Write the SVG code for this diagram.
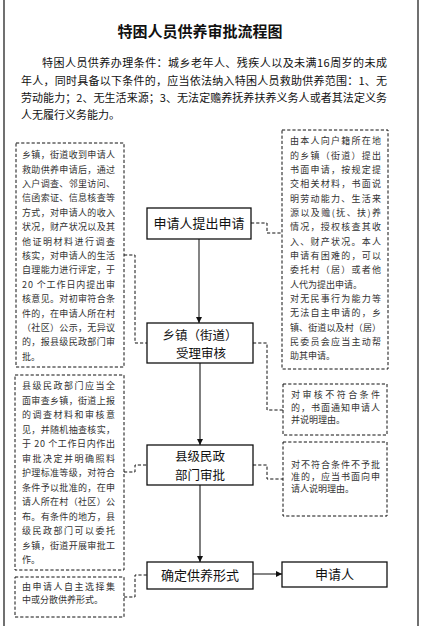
<svg xmlns="http://www.w3.org/2000/svg" width="424" height="626" viewBox="0 0 424 626">
<style>
text{font-family:"Noto Sans CJK SC","Noto Sans",sans-serif;fill:#111}
.title{font-size:15px;font-weight:bold;text-anchor:middle}
.intro{font-size:11px}
.small{font-size:9px;fill:#333}
.lbl{font-size:13px;text-anchor:middle}
.lbl2{font-size:12.5px;text-anchor:middle}
.node{fill:#fff;stroke:#111;stroke-width:1.3}
.note{fill:none;stroke:#111;stroke-width:1;stroke-dasharray:3.2,2}
.dash{fill:none;stroke:#111;stroke-width:1;stroke-dasharray:3.2,2}
.flow{fill:none;stroke:#7f7f7f;stroke-width:2}
.flow1{fill:none;stroke:#333;stroke-width:1.2}
.page{stroke:#111;stroke-width:1.2}
</style>
<defs>
<marker id="ah" markerWidth="6" markerHeight="6" refX="6" refY="3" orient="auto" markerUnits="userSpaceOnUse"><path d="M0,0 L6,3 L0,6 z" fill="#111"/></marker>
</defs>
<rect width="424" height="626" fill="#fff"/>
<line class="page" x1="4" y1="0" x2="4" y2="626"/>
<line class="page" x1="418" y1="0" x2="418" y2="626"/>

<g id="header">
<text class="title" x="200" y="37">特困人员供养审批流程图</text>
<text class="intro" x="42" y="67" textLength="345" lengthAdjust="spacing">特困人员供养办理条件：城乡老年人、残疾人以及未满16周岁的未成</text>
<text class="intro" x="21" y="85" textLength="366" lengthAdjust="spacing">年人，同时具备以下条件的，应当依法纳入特困人员救助供养范围：1、无</text>
<text class="intro" x="21" y="102" textLength="366" lengthAdjust="spacing">劳动能力；2、无生活来源；3、无法定赡养抚养扶养义务人或者其法定义务</text>
<text class="intro" x="21" y="119">人无履行义务能力。</text>
</g>

<g id="connectors">
<line class="flow1" x1="199" y1="239" x2="199" y2="323" marker-end="url(#ah)"/>
<line class="flow" x1="200" y1="363" x2="200" y2="445" marker-end="url(#ah)"/>
<line class="flow" x1="200" y1="485" x2="200" y2="562" marker-end="url(#ah)"/>
<line class="flow1" x1="253" y1="574" x2="282" y2="574" marker-end="url(#ah)"/>
<path class="dash" d="M124,255 H135 V343 H147"/>
<path class="dash" d="M251,223 H267 V233 H282"/>
<path class="dash" d="M253,343 H267 V410 H283"/>
<path class="dash" d="M253,465 H267 V479 H283"/>
<path class="dash" d="M124,472 H135 V465 H147"/>
<path class="dash" d="M124,597 H135 V575 H147"/>
</g>

<g id="node-apply">
<rect class="node" x="147" y="208" width="104" height="31"/>
<text class="lbl" x="199" y="228">申请人提出申请</text>
</g>

<g id="node-town">
<rect class="node" x="147" y="323" width="106" height="40"/>
<text class="lbl2" x="200" y="339.6">乡镇（街道）</text>
<text class="lbl2" x="201" y="358.1">受理审核</text>
</g>

<g id="node-county">
<rect class="node" x="147" y="445" width="106" height="40"/>
<text class="lbl2" x="200" y="461.1">县级民政</text>
<text class="lbl2" x="200" y="479.6">部门审批</text>
</g>

<g id="node-form">
<rect class="node" x="147" y="562" width="106" height="27"/>
<text class="lbl" x="200" y="579.5">确定供养形式</text>
</g>

<g id="node-applicant">
<rect class="node" x="282" y="562" width="105" height="25"/>
<text class="lbl" x="334.5" y="578.5">申请人</text>
</g>

<g id="note-town">
<rect class="note" x="16" y="143" width="108" height="224"/>
<text class="small" x="22" y="158.2" textLength="93" lengthAdjust="spacing">乡镇，街道收到申请人</text>
<text class="small" x="22" y="172.6" textLength="93" lengthAdjust="spacing">救助供养申请后，通过</text>
<text class="small" x="22" y="187" textLength="93" lengthAdjust="spacing">入户调查、邻里访问、</text>
<text class="small" x="22" y="201.4" textLength="93" lengthAdjust="spacing">信函索证、信息核查等</text>
<text class="small" x="22" y="215.8" textLength="93" lengthAdjust="spacing">方式，对申请人的收入</text>
<text class="small" x="22" y="230.2" textLength="93" lengthAdjust="spacing">状况，财产状况以及其</text>
<text class="small" x="22" y="244.6" textLength="93" lengthAdjust="spacing">他证明材料进行调查</text>
<text class="small" x="22" y="259" textLength="93" lengthAdjust="spacing">核实，对申请人的生活</text>
<text class="small" x="22" y="273.4" textLength="93" lengthAdjust="spacing">自理能力进行评定，于</text>
<text class="small" x="22" y="287.8" textLength="93" lengthAdjust="spacing">20 个工作日内提出审</text>
<text class="small" x="22" y="302.2" textLength="93" lengthAdjust="spacing">核意见。对初审符合条</text>
<text class="small" x="22" y="316.6" textLength="93" lengthAdjust="spacing">件的，在申请人所在村</text>
<text class="small" x="22" y="331" textLength="93" lengthAdjust="spacing">（社区）公示，无异议</text>
<text class="small" x="22" y="345.4" textLength="93" lengthAdjust="spacing">的，报县级民政部门审</text>
<text class="small" x="22" y="359.8">批。</text>
</g>

<g id="note-apply">
<rect class="note" x="282" y="130" width="106" height="239"/>
<text class="small" x="290" y="144.2" textLength="91" lengthAdjust="spacing">由本人向户籍所在地</text>
<text class="small" x="290" y="158.5" textLength="91" lengthAdjust="spacing">的乡镇（街道）提出</text>
<text class="small" x="290" y="172.9" textLength="91" lengthAdjust="spacing">书面申请，按规定提</text>
<text class="small" x="290" y="187.2" textLength="91" lengthAdjust="spacing">交相关材料，书面说</text>
<text class="small" x="290" y="201.5" textLength="91" lengthAdjust="spacing">明劳动能力、生活来</text>
<text class="small" x="290" y="215.8" textLength="91" lengthAdjust="spacing">源以及赡(抚、扶)养</text>
<text class="small" x="290" y="230.2" textLength="91" lengthAdjust="spacing">情况，授权核查其收</text>
<text class="small" x="290" y="244.5" textLength="91" lengthAdjust="spacing">入、财产状况。本人</text>
<text class="small" x="290" y="258.8" textLength="91" lengthAdjust="spacing">申请有困难的，可以</text>
<text class="small" x="290" y="273.2" textLength="91" lengthAdjust="spacing">委托村（居）或者他</text>
<text class="small" x="290" y="287.5">人代为提出申请。</text>
<text class="small" x="290" y="301.8" textLength="91" lengthAdjust="spacing">对无民事行为能力等</text>
<text class="small" x="290" y="316.2" textLength="91" lengthAdjust="spacing">无法自主申请的，乡</text>
<text class="small" x="290" y="330.5" textLength="91" lengthAdjust="spacing">镇、街道以及村（居）</text>
<text class="small" x="290" y="344.8" textLength="91" lengthAdjust="spacing">民委员会应当主动帮</text>
<text class="small" x="290" y="359.2">助其申请。</text>
</g>

<g id="note-reject-town">
<rect class="note" x="283" y="384" width="104" height="51"/>
<text class="small" x="291" y="398.2" textLength="89" lengthAdjust="spacing">对审核不符合条件</text>
<text class="small" x="291" y="410.7" textLength="89" lengthAdjust="spacing">的，书面通知申请人</text>
<text class="small" x="291" y="423.2">并说明理由。</text>
</g>

<g id="note-county">
<rect class="note" x="15" y="375" width="109" height="195"/>
<text class="small" x="22" y="389.2" textLength="93" lengthAdjust="spacing">县级民政部门应当全</text>
<text class="small" x="22" y="403.7" textLength="93" lengthAdjust="spacing">面审查乡镇，街道上报</text>
<text class="small" x="22" y="418.2" textLength="93" lengthAdjust="spacing">的调查材料和审核意</text>
<text class="small" x="22" y="432.7" textLength="93" lengthAdjust="spacing">见，并随机抽查核实，</text>
<text class="small" x="22" y="447.2" textLength="93" lengthAdjust="spacing">于 20 个工作日内作出</text>
<text class="small" x="22" y="461.7" textLength="93" lengthAdjust="spacing">审批决定并明确照料</text>
<text class="small" x="22" y="476.2" textLength="93" lengthAdjust="spacing">护理标准等级，对符合</text>
<text class="small" x="22" y="490.7" textLength="93" lengthAdjust="spacing">条件予以批准的，在申</text>
<text class="small" x="22" y="505.2" textLength="93" lengthAdjust="spacing">请人所在村（社区）公</text>
<text class="small" x="22" y="519.7" textLength="93" lengthAdjust="spacing">布。有条件的地方，县</text>
<text class="small" x="22" y="534.2" textLength="93" lengthAdjust="spacing">级民政部门可以委托</text>
<text class="small" x="22" y="548.7" textLength="93" lengthAdjust="spacing">乡镇，街道开展审批工</text>
<text class="small" x="22" y="563.2">作。</text>
</g>

<g id="note-reject-county">
<rect class="note" x="283" y="442" width="104" height="74"/>
<text class="small" x="291" y="468.2" textLength="89" lengthAdjust="spacing">对不符合条件不予批</text>
<text class="small" x="291" y="480.2" textLength="89" lengthAdjust="spacing">准的，应当书面向申</text>
<text class="small" x="291" y="492.2">请人说明理由。</text>
</g>

<g id="note-form">
<rect class="note" x="15" y="577" width="109" height="40"/>
<text class="small" x="22" y="590.2" textLength="93" lengthAdjust="spacing">由申请人自主选择集</text>
<text class="small" x="22" y="603.2">中或分散供养形式。</text>
</g>
</svg>
